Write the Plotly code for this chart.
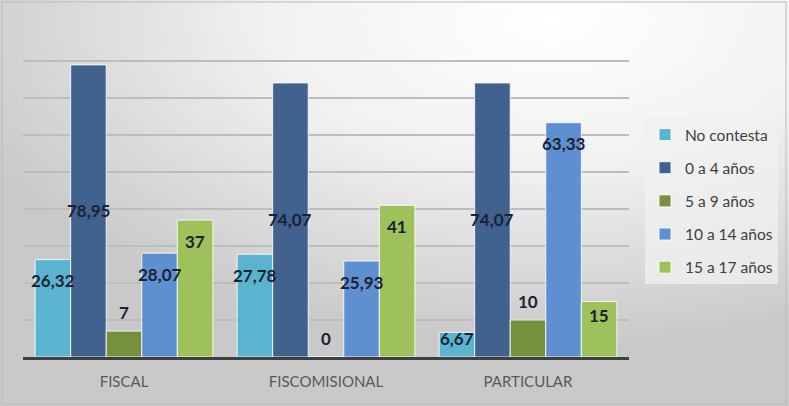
import base64
import plotly.graph_objects as go

# ---------------- data ----------------
categories = ["FISCAL", "FISCOMISIONAL", "PARTICULAR"]
series_names = ["No contesta", "0 a 4 años", "5 a 9 años", "10 a 14 años", "15 a 17 años"]
no_contesta = [26.32, 27.78, 6.67]
anios_0_4 = [78.95, 74.07, 74.07]
anios_5_9 = [7, 0, 10]
anios_10_14 = [28.07, 25.93, 63.33]
anios_15_17 = [37, 41, 15]
series_values = [no_contesta, anios_0_4, anios_5_9, anios_10_14, anios_15_17]

# ---------------- style ----------------
colors = ["#5BB4CF", "#41618E", "#76913D", "#5E8FD0", "#9EC15B"]
label_modes = ["inside_end", "center", "outside", "inside_end", "inside_end"]
FIG_W, FIG_H = 789, 406
ML, MR, MT, MB = 23, 160, 24, 49
BARGAP = 0.12
Y_MAX = 90
FONT = "Lato"

plot_w = FIG_W - ML - MR
plot_h = FIG_H - MT - MB
px_per_unit = plot_h / Y_MAX


def fmt(v):
    return ("%g" % v).replace(".", ",")


fig = go.Figure()
for name, vals, col in zip(series_names, series_values, colors):
    fig.add_trace(go.Bar(
        x=categories, y=vals, name=name, legendgroup=name,
        marker=dict(color=col, line=dict(color="rgba(255,255,255,0.85)", width=1)),
        hoverinfo="skip",
    ))

# data labels
n = len(series_names)
slot_px = (1 - BARGAP) / n * (plot_w / len(categories))
annotations = []
for i, (vals, mode) in enumerate(zip(series_values, label_modes)):
    xs = (i - (n - 1) / 2) * slot_px
    for cat, v in zip(categories, vals):
        if mode == "center":
            y, ys = v / 2, 0
        elif mode == "outside":
            y, ys = v, 19
        else:
            y, ys = v, -min(21, 0.25 * v * px_per_unit)
        annotations.append(dict(
            x=cat, y=y, xref="x", yref="y", xshift=xs, yshift=ys,
            text=fmt(v), showarrow=False,
            font=dict(family=FONT, size=17, color="#1B2233", weight="bold"),
        ))

# gradient background (svg)
svg = (
    f'<svg xmlns="http://www.w3.org/2000/svg" width="{FIG_W}" height="{FIG_H}" '
    f'viewBox="0 0 {FIG_W} {FIG_H}" preserveAspectRatio="none">'
    '<defs><radialGradient id="g" cx="0.7" cy="0.05" r="0.8" fx="0.7" fy="0.05">'
    '<stop offset="0" stop-color="#ffffff"/>'
    '<stop offset="0.45" stop-color="#f1f1f1"/>'
    '<stop offset="1" stop-color="#c9c9c9"/>'
    '</radialGradient></defs>'
    f'<rect x="0" y="0" width="{FIG_W}" height="{FIG_H}" fill="url(#g)"/>'
    f'<rect x="2" y="2" width="{FIG_W - 5}" height="{FIG_H - 4}" fill="none" stroke="#bcbcbc" stroke-width="1"/>'
    '</svg>'
)
svg_uri = "data:image/svg+xml;base64," + base64.b64encode(svg.encode()).decode()

fig.update_layout(
    width=FIG_W, height=FIG_H,
    margin=dict(l=ML, r=MR, t=MT, b=MB, pad=0, autoexpand=False),
    barmode="group", bargap=BARGAP, bargroupgap=0,
    paper_bgcolor="#d6d6d6", plot_bgcolor="rgba(0,0,0,0)",
    font=dict(family=FONT, color="#595959"),
    showlegend=True,
    legend=dict(
        xref="container", yref="container",
        x=645 / FIG_W, y=(FIG_H - 118) / FIG_H,
        xanchor="left", yanchor="top",
        bgcolor="rgba(240,240,240,0.75)", borderwidth=0,
        font=dict(family=FONT, size=15.5, color="#404040"),
        traceorder="grouped", tracegroupgap=10,
        itemwidth=30,
        itemclick=False, itemdoubleclick=False,
    ),
    images=[dict(
        source=svg_uri, xref="paper", yref="paper",
        x=-ML / plot_w, y=1 + MT / plot_h,
        sizex=FIG_W / plot_w, sizey=FIG_H / plot_h,
        xanchor="left", yanchor="top", sizing="stretch", layer="below",
    )],
    annotations=annotations,
    xaxis=dict(
        showline=True, linecolor="#404040", linewidth=2.5,
        ticks="", tickfont=dict(family=FONT, size=15, color="#595959"),
        ticklabelstandoff=9, showgrid=False,
    ),
    yaxis=dict(
        range=[0, Y_MAX], dtick=10, showticklabels=False,
        showgrid=True, gridcolor="#bdbdbd", gridwidth=1.5,
        zeroline=False, showline=False, ticks="",
    ),
)

fig.write_html("out.html")
